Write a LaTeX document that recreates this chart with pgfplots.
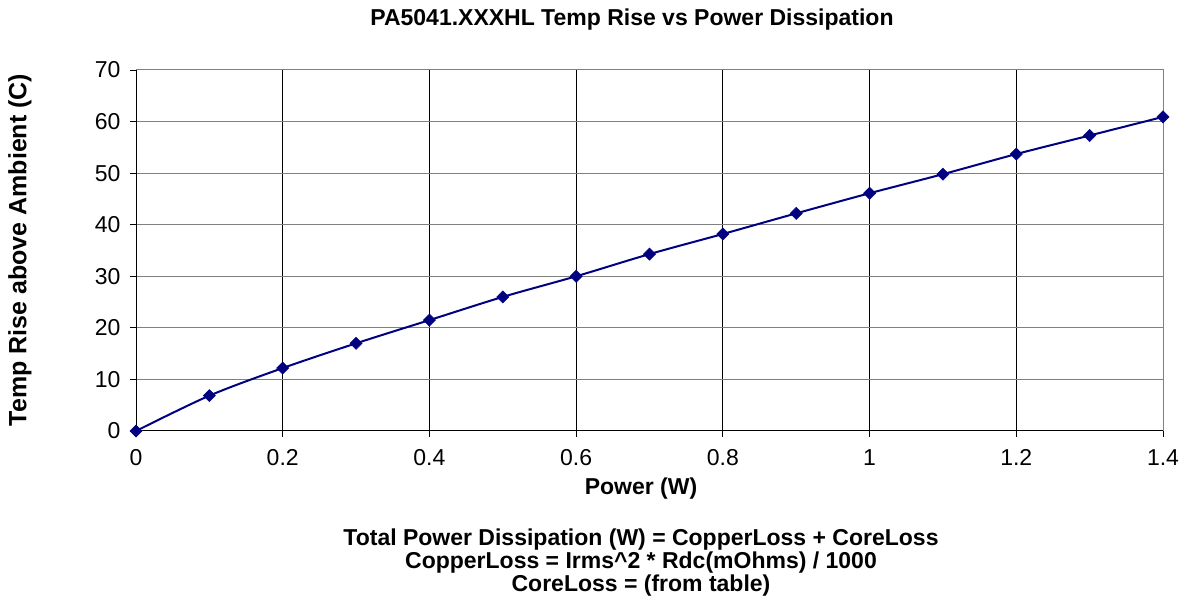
\documentclass[border=0pt]{standalone}
\usepackage{fontspec}
\setmainfont{Liberation Sans}
\usepackage{pgfplots}
\pgfplotsset{compat=1.18}
\definecolor{navyline}{RGB}{0,0,128}
\definecolor{gridgray}{RGB}{128,128,128}
\begin{document}
\begin{tikzpicture}[x=1bp,y=1bp]
\useasboundingbox (0,0) rectangle (1185,614);
\begin{axis}[
  at={(136bp,183bp)}, anchor=south west,
  scale only axis, width=1027bp, height=361bp,
  xmin=0, xmax=1.4, ymin=0, ymax=70,
  xtick={0,0.2,...,1.4},
  ytick={0,10,...,70},
  xticklabels={0,0.2,0.4,0.6,0.8,1,1.2,1.4},
  /pgf/number format/assume math mode=true,
  tick label style={font=\fontsize{23bp}{26bp}\selectfont},
  xtick pos=left, ytick pos=left,
  tick align=outside, major tick length=6bp,
  tick style={black, line width=0.8bp},
  xmajorgrids, ymajorgrids,
  x grid style={black, line width=0.8bp},
  y grid style={gridgray, line width=1bp},
  axis line style={gridgray, line width=1bp},
  xticklabel style={yshift=-9bp},
  yticklabel style={xshift=-6bp},
  clip=false,
]
\addplot[navyline, line width=2bp, smooth, tension=0.5,
  mark=square*, mark size=4.3bp, mark options={rotate=45, fill=navyline, draw=navyline, line width=0.5bp}]
  coordinates {
  (0,0) (0.1,6.85) (0.2,12.2) (0.3,17.0) (0.4,21.5) (0.5,26.0) (0.6,30.0)
  (0.7,34.3) (0.8,38.2) (0.9,42.2) (1.0,46.1) (1.1,49.8) (1.2,53.7)
  (1.3,57.3) (1.4,60.9)
  };
\draw[black, line width=1bp] (rel axis cs:0,0) -- (rel axis cs:0,1);
\draw[black, line width=1bp] (rel axis cs:0,0) -- (rel axis cs:1,0);
\end{axis}
\node[font=\bfseries\fontsize{23bp}{26bp}\selectfont] at (632,594) {PA5041.XXXHL Temp Rise vs Power Dissipation};
\node[font=\bfseries\fontsize{23bp}{26bp}\selectfont] at (641,125) {Power (W)};
\node[font=\bfseries\fontsize{25bp}{28bp}\selectfont, rotate=90] at (20,364) {Temp Rise above Ambient (C)};
\node[font=\bfseries\fontsize{23bp}{26bp}\selectfont] at (641,74) {Total Power Dissipation (W) = CopperLoss + CoreLoss};
\node[font=\bfseries\fontsize{23bp}{26bp}\selectfont] at (641,51) {CopperLoss = Irms\^{}2 * Rdc(mOhms) / 1000};
\node[font=\bfseries\fontsize{23bp}{26bp}\selectfont] at (641,28) {CoreLoss = (from table)};
\end{tikzpicture}
\end{document}
